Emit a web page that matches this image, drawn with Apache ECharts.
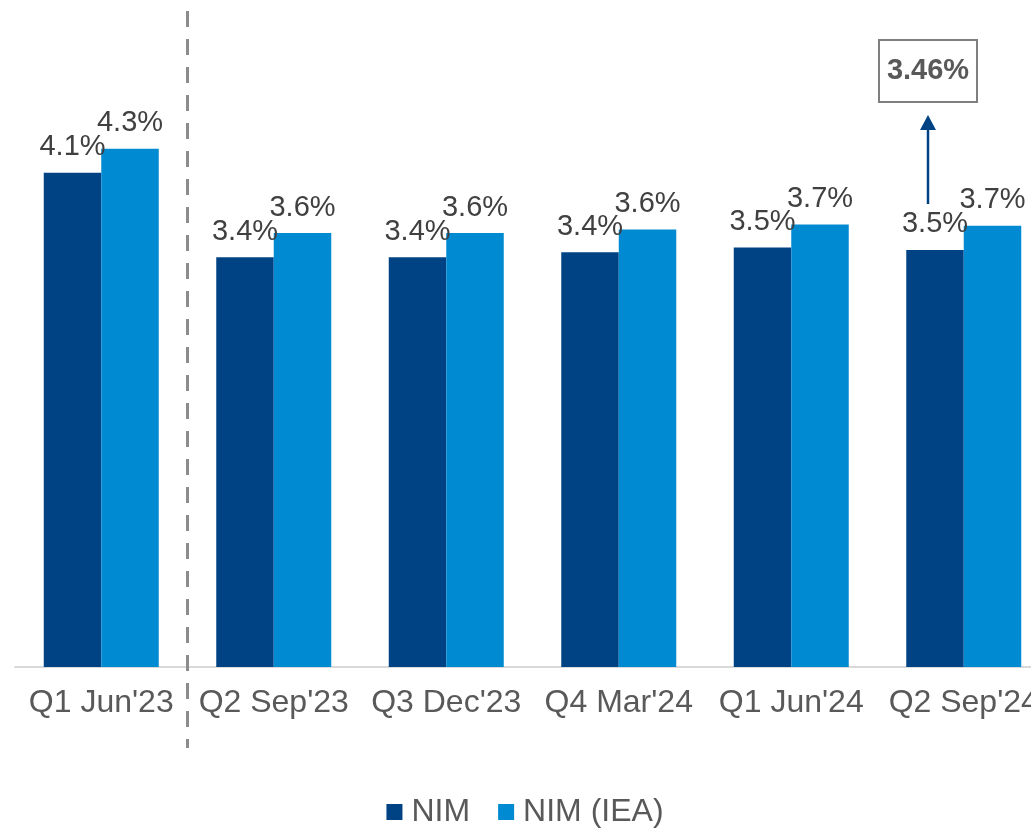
<!DOCTYPE html>
<html lang="en">
<head>
    <meta charset="UTF-8">
    <script src="https://cdn.jsdelivr.net/npm/echarts@6/dist/echarts.min.js"></script>
    <title>NIM</title>
    <style>
        html, body { margin: 0; padding: 0; background: #fff; overflow: hidden; }
        /* chart is a bit wider than the window, the last bars get cut like in the source */
        #main { width: 1050px; height: 828px; }
    </style>
</head>
<body>
    <div id="main"></div>
    <script>
        // quarters
        var quarters = ["Q1 Jun'23", "Q2 Sep'23", "Q3 Dec'23", "Q4 Mar'24", "Q1 Jun'24", "Q2 Sep'24"];
        // NIM, %
        var nim = [4.10, 3.40, 3.40, 3.44, 3.48, 3.46];
        // NIM on interest earning assets, %
        var nimIea = [4.30, 3.60, 3.60, 3.63, 3.67, 3.66];
        var calloutText = '3.46%';

        var font = "'Liberation Sans', Arial, sans-serif";

        var myChart = echarts.init(document.getElementById('main'));

        function barLabel() {
            return {
                show: true,
                position: 'top',
                distance: 11,
                color: '#404040',
                fontSize: 29,
                fontFamily: font,
                formatter: function (p) { return p.value.toFixed(1) + '%'; }
            };
        }

        var option = {
            animation: false,
            grid: { left: 15, right: 0, top: 4, bottom: 161, containLabel: false },
            legend: {
                data: ['NIM', 'NIM (IEA)'],
                top: 791,
                left: 'center',
                itemWidth: 16,
                itemHeight: 16,
                itemGap: 28,
                icon: 'rect',
                textStyle: { color: '#595959', fontSize: 32, fontFamily: font, padding: [0, 0, 0, 4] }
            },
            xAxis: {
                type: 'category',
                data: quarters,
                axisTick: { show: false },
                axisLine: { lineStyle: { color: '#d9d9d9', width: 2 } },
                axisLabel: { color: '#595959', fontSize: 32, fontFamily: font, margin: 20, interval: 0 }
            },
            yAxis: {
                type: 'value',
                min: 0,
                max: 5.5,
                show: false,
                splitLine: { show: false }
            },
            series: [{
                name: 'NIM',
                type: 'bar',
                data: nim,
                barWidth: 57.5,
                barGap: '0%',
                itemStyle: { color: '#004385' },
                label: barLabel()
            }, {
                name: 'NIM (IEA)',
                type: 'bar',
                data: nimIea,
                barWidth: 57.5,
                barGap: '0%',
                itemStyle: { color: '#008AD2' },
                label: barLabel()
            }]
        };
        myChart.setOption(option);

        // dashed separator between first and second quarter
        var x0 = myChart.convertToPixel({ xAxisIndex: 0 }, quarters[0]);
        var x1 = myChart.convertToPixel({ xAxisIndex: 0 }, quarters[1]);
        var sepX = (x0 + x1) / 2;

        myChart.setOption({
            graphic: [{
                type: 'line',
                shape: { x1: sepX, y1: 11, x2: sepX, y2: 748 },
                style: { stroke: '#8c8c8c', lineWidth: 3, lineDash: [16, 12] },
                z: 10
            }, {
                // callout box
                type: 'rect',
                shape: { x: 879, y: 40, width: 98, height: 62 },
                style: { fill: '#fff', stroke: '#7f7f7f', lineWidth: 2 },
                z: 10
            }, {
                type: 'text',
                x: 928,
                y: 71,
                style: {
                    text: calloutText,
                    fill: '#595959',
                    font: 'bold 29px ' + font,
                    align: 'center',
                    verticalAlign: 'middle'
                },
                z: 11
            }, {
                // arrow
                type: 'line',
                shape: { x1: 928, y1: 204, x2: 928, y2: 127 },
                style: { stroke: '#004385', lineWidth: 2.5 },
                z: 10
            }, {
                type: 'polygon',
                shape: { points: [[928, 115], [920, 130], [936, 130]] },
                style: { fill: '#004385' },
                z: 10
            }]
        });
    </script>
</body>
</html>
